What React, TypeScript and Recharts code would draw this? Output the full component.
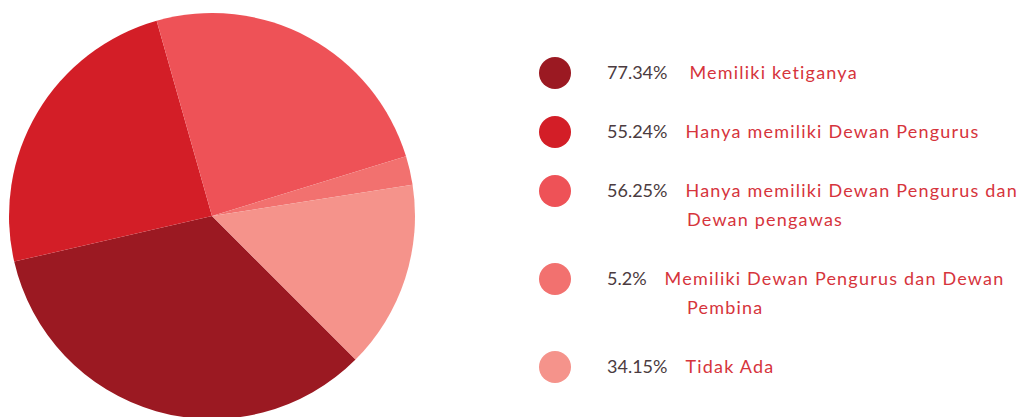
import React from "react";
import { PieChart, Pie, Cell, Legend } from "recharts";

// one entry per slice, clockwise from the lower right
const values = [77.34, 55.24, 56.25, 5.2, 34.15];
const labels = [
	["Memiliki ketiganya"],
	["Hanya memiliki Dewan Pengurus"],
	["Hanya memiliki Dewan Pengurus dan", "Dewan pengawas"],
	["Memiliki Dewan Pengurus dan Dewan", "Pembina"],
	["Tidak Ada"],
];
const COLORS = ["#9b1922", "#d31e27", "#ee5257", "#f2716f", "#f5938b"];

const data = values.map((v, i) => ({ name: labels[i].join(" "), value: v }));

const FONT = "Lato, 'Open Sans', sans-serif";
const LABEL_STYLE = { color: "#d6343c", letterSpacing: 1.2 };

function LegendList() {
	return (
		<div style={{ fontFamily: FONT, fontSize: 18 }}>
			{values.map((v, i) => (
				<div
					key={i}
					style={{ position: "relative", marginBottom: 30, lineHeight: "29px" }}
				>
					<span
						style={{
							position: "absolute",
							left: 0,
							top: -1.5,
							width: 32,
							height: 32,
							borderRadius: "50%",
							background: COLORS[i],
						}}
					/>
					<div style={{ paddingLeft: 68, whiteSpace: "nowrap" }}>
						<span style={{ color: "#4b3b40" }}>{v}%</span>
						<span style={{ ...LABEL_STYLE, marginLeft: i === 0 ? 22 : 18 }}>
							{labels[i][0]}
						</span>
					</div>
					{labels[i].slice(1).map((line, j) => (
						<div
							key={j}
							style={{ ...LABEL_STYLE, paddingLeft: 148, whiteSpace: "nowrap" }}
						>
							{line}
						</div>
					))}
				</div>
			))}
		</div>
	);
}

export default function App() {
	return (
		<>
			<style>{`body{margin:0;background:#fff}`}</style>
			<PieChart
				width={1020}
				height={417}
				margin={{ top: 0, right: 0, bottom: 0, left: 0 }}
			>
				<Pie
					data={data}
					dataKey="value"
					nameKey="name"
					cx={212}
					cy={216}
					outerRadius={203}
					startAngle={-45}
					endAngle={-405}
					stroke="none"
					isAnimationActive={false}
				>
					{data.map((_, idx) => (
						<Cell key={`cell-${idx}`} fill={COLORS[idx]} />
					))}
				</Pie>
				<Legend
					content={() => <LegendList />}
					wrapperStyle={{ left: 539, top: 58, bottom: "auto", width: 480 }}
				/>
			</PieChart>
		</>
	);
}
